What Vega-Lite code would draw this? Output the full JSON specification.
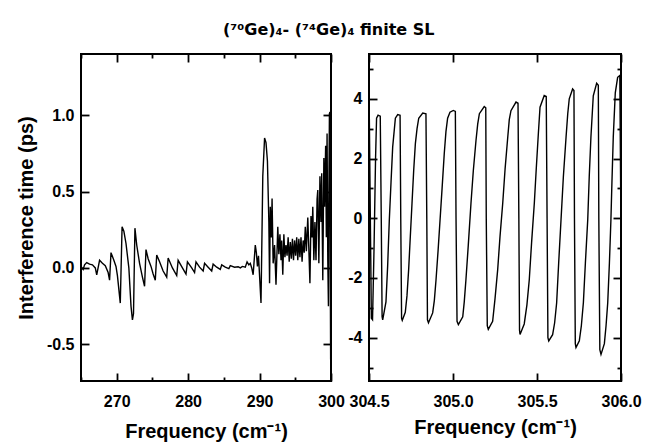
{
  "$schema": "https://vega.github.io/schema/vega-lite/v6.json",
  "padding": {"left": 15, "top": 22, "right": 5, "bottom": 5},
  "title": {"text": "(⁷⁰Ge)₄- (⁷⁴Ge)₄ finite SL", "font": "DejaVu Sans", "fontSize": 16, "fontWeight": "bold", "anchor": "middle", "offset": 14, "color": "black"},
  "spacing": 0,
  "datasets": {
    "left": [
      {"f":265.0,"v":0.01},{"f":265.15,"v":0.0},{"f":265.3,"v":-0.01},{"f":265.5,"v":0.02},{"f":265.8,"v":0.035},{"f":266.2,"v":0.025},{"f":266.6,"v":0.02},{"f":267.0,"v":0.0},{"f":267.2,"v":-0.045},{"f":267.6,"v":0.05},{"f":268.0,"v":0.03},{"f":268.4,"v":0.015},{"f":268.8,"v":-0.03},{"f":269.0,"v":-0.08},{"f":269.2,"v":0.1},{"f":269.6,"v":0.05},{"f":269.9,"v":0.01},{"f":270.1,"v":-0.05},{"f":270.5,"v":-0.23},{"f":270.75,"v":0.27},{"f":271.0,"v":0.24},{"f":271.3,"v":0.16},{"f":271.7,"v":0.0},{"f":272.0,"v":-0.25},{"f":272.2,"v":-0.34},{"f":272.35,"v":-0.3},{"f":272.55,"v":0.26},{"f":272.8,"v":0.15},{"f":273.2,"v":0.03},{"f":273.6,"v":-0.06},{"f":273.9,"v":-0.12},{"f":274.1,"v":0.12},{"f":274.4,"v":0.06},{"f":274.8,"v":0.01},{"f":275.1,"v":-0.04},{"f":275.4,"v":-0.08},{"f":275.6,"v":0.085},{"f":276.0,"v":0.04},{"f":276.5,"v":-0.02},{"f":277.0,"v":-0.06},{"f":277.2,"v":0.065},{"f":277.8,"v":0.0},{"f":278.4,"v":-0.05},{"f":278.6,"v":0.05},{"f":279.2,"v":0.0},{"f":279.7,"v":-0.04},{"f":279.9,"v":0.04},{"f":280.5,"v":0.0},{"f":280.9,"v":-0.03},{"f":281.1,"v":0.04},{"f":281.6,"v":0.005},{"f":282.1,"v":-0.02},{"f":282.3,"v":0.03},{"f":282.8,"v":0.005},{"f":283.3,"v":-0.02},{"f":283.5,"v":0.025},{"f":284.0,"v":0.005},{"f":284.5,"v":-0.01},{"f":284.7,"v":0.02},{"f":285.2,"v":0.005},{"f":285.7,"v":-0.005},{"f":285.9,"v":0.015},{"f":286.5,"v":0.005},{"f":287.0,"v":0.008},{"f":287.3,"v":0.0},{"f":287.6,"v":0.01},{"f":288.0,"v":0.005},{"f":288.25,"v":0.04},{"f":288.5,"v":0.02},{"f":288.7,"v":0.03},{"f":288.9,"v":0.0},{"f":289.1,"v":-0.045},{"f":289.4,"v":0.15},{"f":289.55,"v":0.1},{"f":289.7,"v":0.01},{"f":289.85,"v":0.08},{"f":290.2,"v":-0.23},{"f":290.45,"v":0.6},{"f":290.7,"v":0.85},{"f":290.9,"v":0.82},{"f":291.1,"v":0.7},{"f":291.3,"v":0.3},{"f":291.4,"v":-0.1},{"f":291.5,"v":0.4},{"f":291.65,"v":0.2},{"f":291.75,"v":0.455},{"f":291.9,"v":0.03},{"f":292.1,"v":0.15},{"f":292.3,"v":-0.11},{"f":292.55,"v":0.27},{"f":292.7,"v":0.09},{"f":292.85,"v":0.22},{"f":293.0,"v":0.05},{"f":293.1,"v":0.18},{"f":293.25,"v":-0.045},{"f":293.4,"v":0.22},{"f":293.55,"v":0.07},{"f":293.7,"v":0.15},{"f":293.85,"v":0.08},{"f":294.0,"v":0.2},{"f":294.15,"v":0.04},{"f":294.3,"v":0.17},{"f":294.45,"v":0.06},{"f":294.6,"v":0.19},{"f":294.75,"v":0.05},{"f":294.9,"v":0.18},{"f":295.05,"v":0.08},{"f":295.2,"v":0.2},{"f":295.35,"v":0.05},{"f":295.5,"v":0.19},{"f":295.65,"v":0.07},{"f":295.8,"v":0.2},{"f":295.95,"v":0.04},{"f":296.1,"v":0.18},{"f":296.25,"v":0.1},{"f":296.4,"v":0.27},{"f":296.55,"v":0.11},{"f":296.75,"v":0.33},{"f":296.9,"v":0.12},{"f":297.05,"v":-0.1},{"f":297.2,"v":0.34},{"f":297.35,"v":0.2},{"f":297.45,"v":0.4},{"f":297.6,"v":0.05},{"f":297.75,"v":0.3},{"f":297.9,"v":0.05},{"f":298.05,"v":0.45},{"f":298.15,"v":0.51},{"f":298.3,"v":0.03},{"f":298.45,"v":0.6},{"f":298.6,"v":0.3},{"f":298.7,"v":0.62},{"f":298.85,"v":-0.08},{"f":299.0,"v":0.72},{"f":299.1,"v":0.4},{"f":299.25,"v":0.8},{"f":299.35,"v":0.2},{"f":299.45,"v":0.88},{"f":299.55,"v":0.05},{"f":299.64,"v":-0.25},{"f":299.72,"v":0.6},{"f":299.78,"v":1.01},{"f":299.85,"v":1.02},{"f":299.9,"v":0.0},{"f":299.95,"v":-0.6},{"f":300.0,"v":-0.3}
    ],
    "right": [
      {"f":304.502,"v":3.35},{"f":304.514,"v":-3.35},{"f":304.521,"v":-3.4},{"f":304.53,"v":-1.0},{"f":304.539,"v":2.0},{"f":304.545,"v":3.35},{"f":304.554,"v":3.45},{"f":304.567,"v":3.42},{"f":304.573,"v":0},{"f":304.578,"v":-3.3},
      {"f":304.5815,"v":-3.4},{"f":304.601,"v":-2.8},{"f":304.611,"v":-1.6},{"f":304.621,"v":-0.05},{"f":304.631,"v":1.2},{"f":304.641,"v":2.39},{"f":304.657,"v":3.35},{"f":304.671,"v":3.47},{"f":304.685,"v":3.45},{"f":304.689,"v":0},{"f":304.694,"v":-3.35},
      {"f":304.698,"v":-3.42},{"f":304.716,"v":-3.15},{"f":304.726,"v":-2.6},{"f":304.736,"v":-1.72},{"f":304.746,"v":-0.6},{"f":304.756,"v":0.5},{"f":304.766,"v":1.6},{"f":304.776,"v":2.5},{"f":304.786,"v":3.0},{"f":304.796,"v":3.35},{"f":304.82,"v":3.52},{"f":304.839,"v":3.5},{"f":304.844,"v":0},{"f":304.848,"v":-3.4},
      {"f":304.854,"v":-3.5},{"f":304.879,"v":-3.17},{"f":304.889,"v":-2.75},{"f":304.899,"v":-2.06},{"f":304.911,"v":-1.1},{"f":304.923,"v":-0.05},{"f":304.935,"v":1.0},{"f":304.948,"v":2.17},{"f":304.958,"v":2.9},{"f":304.968,"v":3.35},{"f":304.982,"v":3.55},{"f":305.002,"v":3.61},{"f":305.014,"v":3.58},{"f":305.018,"v":0},{"f":305.024,"v":-3.45},
      {"f":305.032,"v":-3.56},{"f":305.058,"v":-3.3},{"f":305.067,"v":-2.8},{"f":305.077,"v":-2.06},{"f":305.091,"v":-0.9},{"f":305.107,"v":0.5},{"f":305.121,"v":1.6},{"f":305.137,"v":2.61},{"f":305.147,"v":3.15},{"f":305.157,"v":3.5},{"f":305.186,"v":3.74},{"f":305.195,"v":3.7},{"f":305.198,"v":0},{"f":305.204,"v":-3.6},
      {"f":305.21,"v":-3.72},{"f":305.236,"v":-3.45},{"f":305.25,"v":-2.7},{"f":305.266,"v":-1.72},{"f":305.28,"v":-0.6},{"f":305.296,"v":0.5},{"f":305.31,"v":1.65},{"f":305.326,"v":2.72},{"f":305.335,"v":3.3},{"f":305.345,"v":3.6},{"f":305.375,"v":3.89},{"f":305.387,"v":3.85},{"f":305.392,"v":0},{"f":305.396,"v":-3.75},
      {"f":305.399,"v":-3.89},{"f":305.424,"v":-3.54},{"f":305.44,"v":-2.9},{"f":305.454,"v":-2.06},{"f":305.468,"v":-0.8},{"f":305.484,"v":0.5},{"f":305.496,"v":1.7},{"f":305.508,"v":2.83},{"f":305.518,"v":3.72},{"f":305.543,"v":4.11},{"f":305.555,"v":4.08},{"f":305.56,"v":0},{"f":305.565,"v":-4.0},
      {"f":305.57,"v":-4.11},{"f":305.593,"v":-3.9},{"f":305.605,"v":-3.5},{"f":305.617,"v":-2.83},{"f":305.629,"v":-1.5},{"f":305.643,"v":-0.05},{"f":305.657,"v":1.4},{"f":305.673,"v":2.72},{"f":305.683,"v":3.5},{"f":305.692,"v":4.0},{"f":305.712,"v":4.33},{"f":305.72,"v":4.28},{"f":305.723,"v":0},{"f":305.728,"v":-4.2},
      {"f":305.732,"v":-4.33},{"f":305.752,"v":-4.1},{"f":305.764,"v":-3.6},{"f":305.776,"v":-2.83},{"f":305.788,"v":-1.5},{"f":305.802,"v":-0.05},{"f":305.811,"v":1.4},{"f":305.821,"v":2.72},{"f":305.835,"v":4.1},{"f":305.855,"v":4.52},{"f":305.865,"v":4.45},{"f":305.868,"v":0},{"f":305.874,"v":-4.4},
      {"f":305.881,"v":-4.56},{"f":305.901,"v":-4.2},{"f":305.911,"v":-3.6},{"f":305.921,"v":-2.83},{"f":305.931,"v":-1.5},{"f":305.94,"v":-0.05},{"f":305.946,"v":1.2},{"f":305.954,"v":2.72},{"f":305.966,"v":4.2},{"f":305.98,"v":4.72},{"f":305.993,"v":4.78},{"f":305.998,"v":1.0},{"f":306.0,"v":-0.5}
    ]
  },
  "hconcat": [
    {
      "width": 250, "height": 327,
      "data": {"name": "left"},
      "resolve": {"axis": {"x": "independent", "y": "independent"}},
      "layer": [
        {
          "mark": {"type": "line", "color": "black", "strokeWidth": 1.4, "clip": true},
          "encoding": {
            "x": {"field": "f", "type": "quantitative", "scale": {"domain": [265, 300], "nice": false, "zero": false},
              "axis": {"orient": "bottom", "tickCount": 7, "labelExpr": "datum.value % 10 === 0 ? datum.label : ''",
                "tickSize": {"condition": {"test": "datum.value % 10 === 0", "value": -8}, "value": -4},
                "labelPadding": 20, "title": "Frequency (cm⁻¹)", "titlePadding": 8}},
            "y": {"field": "v", "type": "quantitative", "scale": {"domain": [-0.74, 1.4], "nice": false, "zero": false},
              "axis": {"orient": "left", "tickCount": 4,
                "labelExpr": "replace(datum.label, '−', '-')",
                "tickSize": -8,
                "labelPadding": 15, "title": "Interference time (ps)", "titlePadding": 10}}
          }
        },
        {
          "mark": {"type": "line", "color": "black", "strokeOpacity": 0, "clip": true},
          "encoding": {
            "x": {"field": "f", "type": "quantitative",
              "axis": {"orient": "top", "tickCount": 7, "labels": false, "title": null,
                "tickSize": {"condition": {"test": "datum.value % 10 === 0", "value": -8}, "value": -4}}},
            "y": {"field": "v", "type": "quantitative",
              "axis": {"orient": "right", "tickCount": 4, "labels": false, "title": null,
                "tickSize": -8}}
          }
        }
      ]
    },
    {
      "width": 252, "height": 327,
      "data": {"name": "right"},
      "resolve": {"axis": {"x": "independent", "y": "independent"}},
      "layer": [
        {
          "mark": {"type": "line", "color": "black", "strokeWidth": 1.4, "clip": true},
          "encoding": {
            "x": {"field": "f", "type": "quantitative", "scale": {"domain": [304.5, 306.0], "nice": false, "zero": false},
              "axis": {"orient": "bottom", "tickCount": 3, "format": ".1f",
                "tickSize": -8,
                "labelPadding": 20, "title": "Frequency (cm⁻¹)", "titlePadding": 8}},
            "y": {"field": "v", "type": "quantitative", "scale": {"domain": [-5.45, 5.5], "nice": false, "zero": false},
              "axis": {"orient": "left", "tickCount": 11,
                "labelExpr": "datum.value % 2 === 0 ? replace(datum.label, '−', '-') : ''",
                "tickSize": {"condition": {"test": "datum.value % 2 === 0", "value": -8}, "value": -4},
                "labelPadding": 15, "title": null}}
          }
        },
        {
          "mark": {"type": "line", "color": "black", "strokeOpacity": 0, "clip": true},
          "encoding": {
            "x": {"field": "f", "type": "quantitative",
              "axis": {"orient": "top", "tickCount": 3, "labels": false, "title": null,
                "tickSize": -8}},
            "y": {"field": "v", "type": "quantitative",
              "axis": {"orient": "right", "tickCount": 11, "labels": false, "title": null,
                "tickSize": {"condition": {"test": "datum.value % 2 === 0", "value": -8}, "value": -4}}}
          }
        }
      ]
    }
  ],
  "config": {
    "view": {"stroke": "black", "strokeWidth": 2},
    "axis": {
      "domain": false, "grid": false,
      "tickColor": "black", "tickWidth": 1.8,
      "labelFont": "Liberation Sans", "labelFontSize": 16, "labelFontWeight": "bold", "labelColor": "black",
      "titleFont": "Liberation Sans", "titleFontSize": 20, "titleFontWeight": "bold", "titleColor": "black",
      "labelFlush": false, "labelOverlap": false
    }
  }
}
